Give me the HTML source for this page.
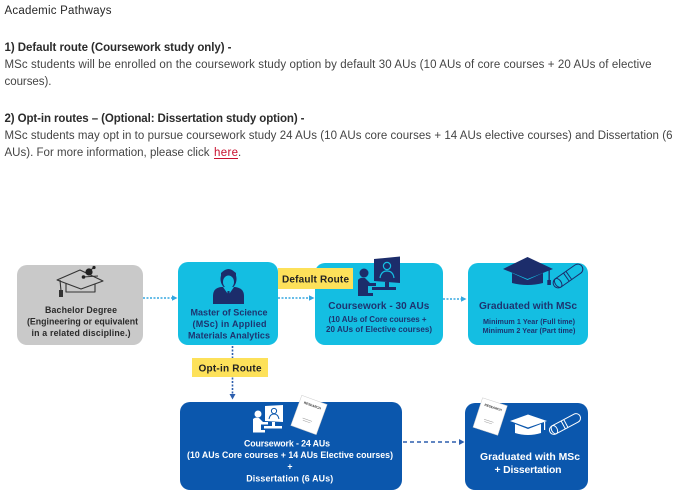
<!DOCTYPE html>
<html><head><meta charset="utf-8">
<style>
html,body{margin:0;padding:0;background:#fff;width:685px;height:499px;overflow:hidden;position:relative;font-family:"Liberation Sans",sans-serif}
svg{position:absolute;left:0;top:0}
</style></head><body>
<svg width="685" height="499" viewBox="0 0 685 499" xmlns="http://www.w3.org/2000/svg" font-family="Liberation Sans, sans-serif">
  <!-- Top text -->
  <g font-size="11.5" fill="#444">
    <text x="4.5" y="14" fill="#262626" textLength="107" lengthAdjust="spacing">Academic Pathways</text>
    <text x="4.5" y="51" font-weight="bold" fill="#2b2b2b" textLength="227" lengthAdjust="spacing">1) Default route (Coursework study only) -</text>
    <text x="4.5" y="68" textLength="647" lengthAdjust="spacing">MSc students will be enrolled on the coursework study option by default 30 AUs (10 AUs of core courses + 20 AUs of elective</text>
    <text x="4.5" y="85" textLength="47" lengthAdjust="spacing">courses).</text>
    <text x="4.5" y="122" font-weight="bold" fill="#2b2b2b" textLength="300" lengthAdjust="spacing">2) Opt-in routes – (Optional: Dissertation study option) -</text>
    <text x="4.5" y="139" textLength="668" lengthAdjust="spacing">MSc students may opt in to pursue coursework study 24 AUs (10 AUs core courses + 14 AUs elective courses) and Dissertation (6</text>
    <text x="4.5" y="156" textLength="205" lengthAdjust="spacing">AUs). For more information, please click</text>
    <text x="214" y="156" fill="#c8102e" textLength="24" lengthAdjust="spacing">here</text>
    <text x="238" y="156">.</text>
  </g>
  <line x1="214" y1="158.5" x2="238" y2="158.5" stroke="#c8102e" stroke-width="1"/>

  <!-- Boxes -->
  <rect x="17" y="265" width="126" height="80" rx="10" fill="#c9c9c9"/>
  <rect x="178" y="262" width="100" height="83" rx="10" fill="#14bee2"/>
  <rect x="315" y="263" width="128" height="82" rx="10" fill="#14bee2"/>
  <rect x="468" y="263" width="120" height="82" rx="10" fill="#14bee2"/>
  <rect x="180" y="402" width="222" height="88" rx="10" fill="#0b57ad"/>
  <rect x="465" y="403" width="123" height="87" rx="10" fill="#0b57ad"/>

  <!-- Connectors -->
  <g stroke="#35a7e0" stroke-width="1.5" stroke-dasharray="2 1.5" fill="none">
    <line x1="143" y1="298" x2="173" y2="298"/>
    <line x1="278" y1="298" x2="310" y2="298"/>
    <line x1="443" y1="299" x2="462" y2="299"/>
  </g>
  <g fill="#35a7e0">
    <polygon points="172,295.3 177.5,298 172,300.7"/>
    <polygon points="309,295.3 314.5,298 309,300.7"/>
    <polygon points="461,296.3 466.5,299 461,301.7"/>
  </g>
  <line x1="232.5" y1="346" x2="232.5" y2="394" stroke="#2d5fae" stroke-width="1.6" stroke-dasharray="2 1.5"/>
  <polygon points="229.5,394 232.5,399.5 235.5,394" fill="#2d5fae"/>
  <line x1="403" y1="442" x2="459" y2="442" stroke="#2d5fae" stroke-width="1.5" stroke-dasharray="4 3"/>
  <polygon points="459,439 464.5,442 459,445" fill="#2d5fae"/>

  <!-- Labels -->
  <rect x="278" y="268" width="75" height="21" fill="#fde15a"/>
  <text x="315.5" y="282.5" font-size="10" font-weight="bold" fill="#222" text-anchor="middle" textLength="67" lengthAdjust="spacing">Default Route</text>
  <rect x="192" y="358" width="76" height="19" fill="#fde15a"/>
  <text x="230" y="371.5" font-size="10" font-weight="bold" fill="#222" text-anchor="middle" textLength="63" lengthAdjust="spacing">Opt-in Route</text>

  <!-- Bachelor icon -->
  <g stroke="#333" stroke-width="1.1" fill="none" stroke-linejoin="round">
    <polygon points="57,280 80,270 103,281 81,289"/>
    <path d="M66,283 L66,292 L95,292 L95,284"/>
    <line x1="60" y1="280" x2="61" y2="291"/>
    <line x1="83" y1="277" x2="98" y2="276"/>
    <line x1="89" y1="272" x2="94" y2="267"/>
  </g>
  <rect x="59" y="290" width="4" height="7" fill="#333"/>
  <circle cx="89" cy="272" r="3.6" fill="#222"/>
  <circle cx="94" cy="267.5" r="1.6" fill="#222"/>
  <circle cx="83.5" cy="277" r="1.8" fill="#222"/>

  <!-- Bachelor text -->
  <g font-size="8.8" font-weight="bold" fill="#2a2a2a" text-anchor="middle">
    <text x="81" y="313" textLength="72" lengthAdjust="spacing">Bachelor Degree</text>
    <text x="82.5" y="324.5" textLength="111" lengthAdjust="spacing">(Engineering or equivalent</text>
    <text x="81" y="336" textLength="99" lengthAdjust="spacing">in a related discipline.)</text>
  </g>

  <!-- MSc person icon -->
  <g fill="#1c2d6b">
    <path d="M213,304 L213,296 Q213,288 221,287 L235,287 Q244,288 244,296 L244,304 Z"/>
    <ellipse cx="228.5" cy="279" rx="8" ry="10"/>
  </g>
  <ellipse cx="228.5" cy="282" rx="5.5" ry="6.5" fill="#14bee2"/>
  <path d="M221,277 Q228,270 236,277 L236,273 Q228,266 221,273 Z" fill="#1c2d6b"/>
  <polygon points="223,287 228.5,295 234,287" fill="#14bee2"/>
  <polygon points="227.5,291 229.5,291 230,300 228.5,302 227,300" fill="#1c2d6b"/>

  <!-- MSc text -->
  <g font-size="9" font-weight="bold" fill="#1d3470" text-anchor="middle">
    <text x="229" y="315.5" textLength="77" lengthAdjust="spacing">Master of Science</text>
    <text x="229.5" y="327" textLength="74" lengthAdjust="spacing">(MSc)  in Applied</text>
    <text x="229" y="338.5" textLength="82" lengthAdjust="spacing">Materials Analytics</text>
  </g>

  <!-- CW30 icon -->
  <g fill="#1c2d6b">
    <polygon points="374,259 400,256.5 400,283 374,281"/>
    <rect x="385" y="282" width="4" height="6"/>
    <rect x="372" y="287" width="24" height="3"/>
    <circle cx="364" cy="273" r="4.5"/>
    <path d="M358,280 Q360,277 365,278 L370,283 L376,283 L376,286 L368,286 L368,293 L373,293 L373,296 L358,296 Z"/>
  </g>
  <circle cx="387" cy="266" r="3.6" fill="none" stroke="#14bee2" stroke-width="1.2"/>
  <path d="M380,278 Q381,271 387,271 Q393,271 394,278" fill="none" stroke="#14bee2" stroke-width="1.2"/>

  <!-- CW30 text -->
  <g font-weight="bold" fill="#1d3470" text-anchor="middle">
    <text x="378.8" y="309" font-size="10" textLength="101" lengthAdjust="spacing">Coursework - 30 AUs</text>
    <text x="377.5" y="322" font-size="8" textLength="98" lengthAdjust="spacing">(10 AUs of Core courses +</text>
    <text x="379" y="332" font-size="8" textLength="106" lengthAdjust="spacing">20 AUs of Elective courses)</text>
  </g>

  <!-- Grad cap (navy) -->
  <g fill="#1c2d6b">
    <polygon points="503,269 527.5,257 553,269 527.5,279"/>
    <path d="M512,273 L527.5,280 L543,273 L543,283 Q527.5,287 512,283 Z"/>
    <rect x="548.5" y="270" width="1.3" height="11"/>
    <rect x="547.3" y="280" width="3.6" height="5"/>
  </g>
  <!-- Diploma outline -->
  <g fill="none" stroke="#1c2d6b" stroke-width="1">
    <g transform="rotate(-35 568 276)">
      <rect x="551" y="271" width="34" height="10" rx="5"/>
      <ellipse cx="556" cy="276" rx="3" ry="5"/>
      <line x1="566" y1="271" x2="566" y2="281"/>
      <line x1="569" y1="271" x2="569" y2="281"/>
    </g>
  </g>

  <!-- Grad text -->
  <g font-weight="bold" fill="#1d3470" text-anchor="middle">
    <text x="528" y="309" font-size="10.2" textLength="98" lengthAdjust="spacing">Graduated with MSc</text>
    <text x="529" y="324" font-size="7.2" textLength="92" lengthAdjust="spacing">Minimum 1 Year (Full time)</text>
    <text x="529" y="333" font-size="7.2" textLength="92.7" lengthAdjust="spacing">Minimum 2 Year (Part time)</text>
  </g>

  <!-- CW24 icons -->
  <g fill="#fff">
    <polygon points="265,406 283,405 283,422 265,421"/>
    <rect x="272" y="422" width="3" height="4"/>
    <rect x="264" y="426" width="18" height="2.5"/>
    <circle cx="258" cy="414" r="3.5"/>
    <path d="M253,419 Q255,417 259,418 L263,422 L268,422 L268,424.5 L261,424.5 L261,430 L265,430 L265,432.5 L253,432.5 Z"/>
  </g>
  <circle cx="274" cy="411" r="2.6" fill="none" stroke="#0b57ad" stroke-width="1"/>
  <path d="M269,419 Q270,414 274,414 Q278,414 279,419" fill="none" stroke="#0b57ad" stroke-width="1"/>
  <!-- Research paper 1 -->
  <g transform="rotate(20 309 415)">
    <rect x="295.5" y="399" width="27" height="32" fill="#fff" stroke="#ccc" stroke-width="0.5"/>
    <text x="309" y="406" font-size="3.2" font-weight="bold" fill="#333" text-anchor="middle">RESEARCH</text>
    <line x1="304" y1="420" x2="314" y2="420" stroke="#999" stroke-width="0.5"/>
    <line x1="305" y1="422" x2="313" y2="422" stroke="#999" stroke-width="0.5"/>
  </g>

  <!-- CW24 text -->
  <g font-weight="bold" fill="#fff" text-anchor="middle">
    <text x="287" y="446.5" font-size="8.8" textLength="86" lengthAdjust="spacing">Coursework - 24 AUs</text>
    <text x="290" y="458" font-size="8.8" textLength="206" lengthAdjust="spacing">(10 AUs Core courses + 14 AUs Elective courses)</text>
    <text x="290" y="469.5" font-size="8.8">+</text>
    <text x="289.7" y="481.5" font-size="8.8" textLength="87" lengthAdjust="spacing">Dissertation (6 AUs)</text>
  </g>

  <!-- GradDiss icons -->
  <g transform="rotate(18 490 417)">
    <rect x="477" y="401" width="26" height="31" fill="#fff" stroke="#ccc" stroke-width="0.5"/>
    <text x="490" y="408" font-size="3.2" font-weight="bold" fill="#333" text-anchor="middle">RESEARCH</text>
    <line x1="485" y1="421" x2="495" y2="421" stroke="#999" stroke-width="0.5"/>
    <line x1="486" y1="423" x2="494" y2="423" stroke="#999" stroke-width="0.5"/>
  </g>
  <g fill="#fff">
    <polygon points="510,421 528,414.5 547,421 528,427.5"/>
    <path d="M515,424 L528,429 L541,424 L541,433 Q528,437 515,433 Z"/>
    <rect x="544" y="422" width="1.2" height="8"/>
  </g>
  <g fill="none" stroke="#fff" stroke-width="1">
    <g transform="rotate(-28 565 424)">
      <rect x="548" y="419.5" width="34" height="9" rx="4.5"/>
      <ellipse cx="553" cy="424" rx="2.8" ry="4.5"/>
      <line x1="563" y1="419.5" x2="563" y2="428.5"/>
      <line x1="566" y1="419.5" x2="566" y2="428.5"/>
    </g>
  </g>

  <!-- GradDiss text -->
  <g font-weight="bold" fill="#fff" text-anchor="middle" font-size="10.4">
    <text x="530" y="460" textLength="100" lengthAdjust="spacing">Graduated with MSc</text>
    <text x="528" y="473" textLength="67" lengthAdjust="spacing">+ Dissertation</text>
  </g>
</svg>
</body></html>
